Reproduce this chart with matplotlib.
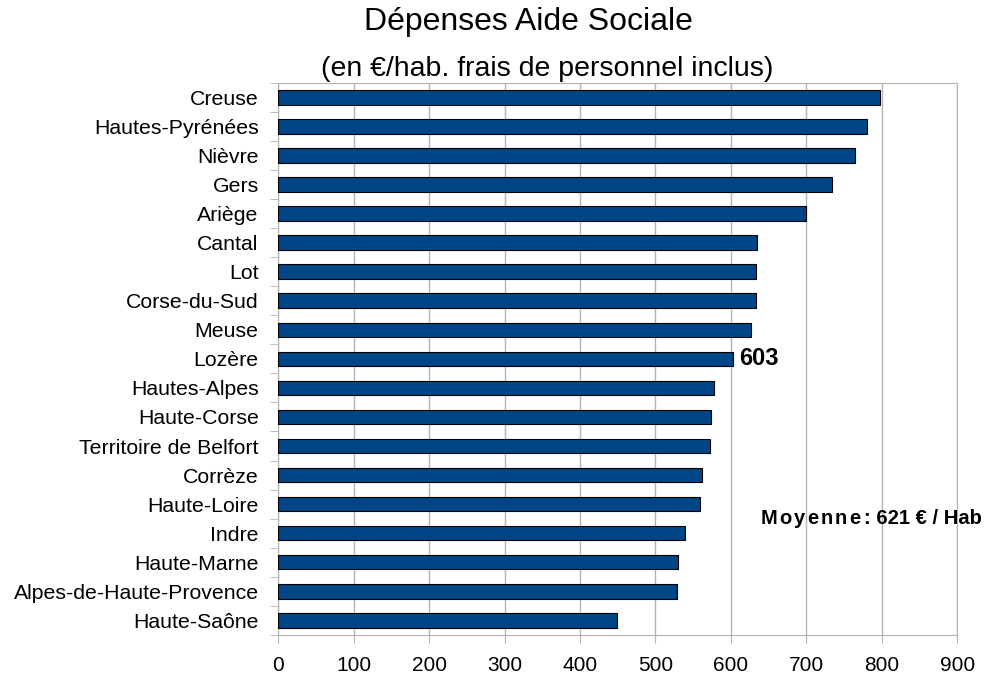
import matplotlib.pyplot as plt

plt.rcParams['font.family'] = ['Liberation Sans', 'DejaVu Sans']

# departements, top to bottom as in the chart
departements = ['Creuse', 'Hautes-Pyrénées', 'Nièvre', 'Gers', 'Ariège', 'Cantal', 'Lot',
                'Corse-du-Sud', 'Meuse', 'Lozère', 'Hautes-Alpes', 'Haute-Corse',
                'Territoire de Belfort', 'Corrèze', 'Haute-Loire', 'Indre', 'Haute-Marne',
                'Alpes-de-Haute-Provence', 'Haute-Saône']
depenses = [797, 780, 764, 734, 700, 634, 633, 633, 627, 603, 577, 573, 572, 562, 559,
            539, 530, 528, 449]
x_ticks = [0, 100, 200, 300, 400, 500, 600, 700, 800, 900]
highlight = 'Lozère'
moyenne = 621

fig = plt.figure(figsize=(9.9, 6.79), dpi=100)
ax = fig.add_axes([0.281, 0.065, 0.686, 0.813])

pos = list(range(len(departements)))[::-1]
ax.barh(pos, depenses, height=0.5, color='#004586', edgecolor='black', linewidth=0.8, zorder=3)

ax.set_xlim(0, 900)
ax.set_ylim(-0.5, len(departements) - 0.5)
ax.set_xticks(x_ticks)
ax.set_xticklabels([str(t) for t in x_ticks], fontsize=15)
ax.set_yticks(pos)
ax.set_yticklabels(departements, fontsize=15.3)
ax.set_yticks([p + 0.5 for p in pos] + [-0.5], minor=True)
ax.tick_params(axis='y', which='major', length=0, pad=14)
ax.tick_params(axis='y', which='minor', length=6, color='#b3b3b3', direction='out')
ax.tick_params(axis='x', length=6, color='#b3b3b3', direction='out', pad=9)

ax.grid(axis='x', color='#b3b3b3', linewidth=1, zorder=0)
for s in ax.spines.values():
    s.set_color('#b3b3b3')

# value label for the highlighted one
i = departements.index(highlight)
ax.text(depenses[i] + 8, pos[i], str(depenses[i]), fontsize=17, fontweight='bold',
        va='center', ha='left', zorder=4)

# average note: "Moyenne" is letter-spaced in the original, so draw it char by char
renderer = fig.canvas.get_renderer()
W = fig.get_figwidth() * fig.dpi
x_px = 761
y_moy = 0.236
for ch in 'Moyenne':
    t = fig.text(x_px / W, y_moy, ch, fontsize=14.5, fontweight='bold', va='center', ha='left')
    x_px += t.get_window_extent(renderer).width + 2.0
fig.text((x_px + 2) / W, y_moy, ': %d € / Hab' % moyenne, fontsize=14.5, fontweight='bold',
         va='center', ha='left')

fig.text(0.534, 0.968, 'Dépenses Aide Sociale', fontsize=23, ha='center', va='center')
fig.text(0.553, 0.899, '(en €/hab. frais de personnel inclus)', fontsize=20.5, ha='center', va='center')

fig.savefig('out.png', dpi=100)
